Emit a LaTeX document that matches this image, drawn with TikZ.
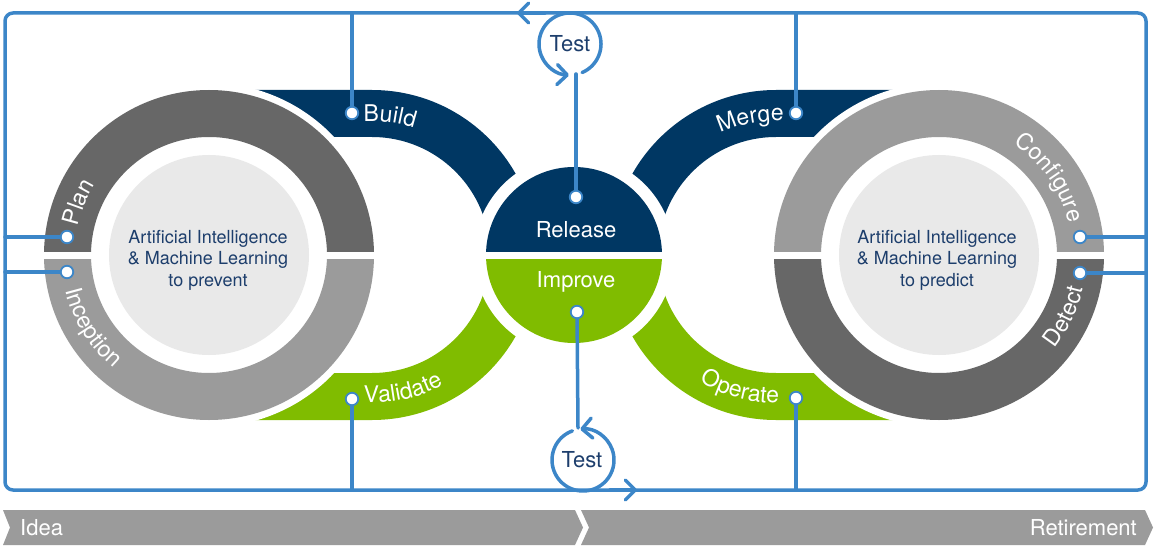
\documentclass[tikz,border=0pt]{standalone}
\usepackage{fontspec}
\setmainfont{TeX Gyre Heros}
\usetikzlibrary{arrows.meta,decorations.text}
\definecolor{navy}{HTML}{003763}
\definecolor{lgreen}{HTML}{80BC00}
\definecolor{dgray}{HTML}{676767}
\definecolor{lgray}{HTML}{9B9B9B}
\definecolor{disk}{HTML}{E9E9E9}
\definecolor{lblue}{HTML}{3C86C8}
\definecolor{txtnavy}{HTML}{1D3E6C}
\newcommand\lblfont{\fontsize{23}{27}\selectfont}
\newcommand\midfont{\fontsize{22}{26}\selectfont}
\newcommand\diskfont{\fontsize{18}{21.5}\selectfont}
\newcommand\ringlabel[5]{\path[shift={(#1)},decorate,decoration={text along path,text align=center,text color=white,text={|\lblfont|#5}}] (#3:#2) arc[start angle=#3,end angle=#4,radius=#2];}
\begin{document}
\begin{tikzpicture}[x=1pt,y=1pt,
  conn/.style={draw=lblue,line width=3.5pt,line cap=round,line join=round},
  arr/.style={conn,-{Straight Barb[length=10pt,width=20pt,line cap=round,line join=round]}},
  dotn/.style={circle,fill=white,draw=lblue,line width=1.8pt,minimum size=12.5pt,inner sep=0pt},
  disktext/.style={align=center,text=txtnavy,font=\diskfont},
  midtext/.style={white,font=\midfont,anchor=base},
  banner/.style={fill=lgray}]
\useasboundingbox (0,0) rectangle (1155,547);
\coordinate (L) at (209,292);
\coordinate (R) at (939,292);
\coordinate (C) at (574,292);
\coordinate (A1) at (372,292);
\coordinate (A2) at (776,292);
% bands
\fill[navy] (209,457) -- (372,457) arc[start angle=90,end angle=0,radius=165] -- (490,292) arc[start angle=0,end angle=90,radius=118] -- (209,410) -- cycle;
\fill[lgreen] (209,127) -- (372,127) arc[start angle=-90,end angle=0,radius=165] -- (490,292) arc[start angle=0,end angle=-90,radius=118] -- (209,174) -- cycle;
\fill[navy] (939,457) -- (776,457) arc[start angle=90,end angle=180,radius=165] -- (658,292) arc[start angle=180,end angle=90,radius=118] -- (939,410) -- cycle;
\fill[lgreen] (939,127) -- (776,127) arc[start angle=270,end angle=180,radius=165] -- (658,292) arc[start angle=180,end angle=270,radius=118] -- (939,174) -- cycle;
% halos
\fill[white] (L) circle[radius=172];
\fill[white] (R) circle[radius=172];
\fill[white] (C) circle[radius=100];
% left ring
\fill[dgray,shift={(L)}] (165,0) arc[start angle=0,end angle=180,radius=165] -- (-118,0) arc[start angle=180,end angle=0,radius=118] -- cycle;
\fill[lgray,shift={(L)}] (-165,0) arc[start angle=180,end angle=360,radius=165] -- (118,0) arc[start angle=360,end angle=180,radius=118] -- cycle;
\fill[white] (40,288.5) rectangle (378,295.5);
\fill[disk] (L) circle[radius=100];
% right ring
\fill[lgray,shift={(R)}] (165,0) arc[start angle=0,end angle=180,radius=165] -- (-118,0) arc[start angle=180,end angle=0,radius=118] -- cycle;
\fill[dgray,shift={(R)}] (-165,0) arc[start angle=180,end angle=360,radius=165] -- (118,0) arc[start angle=360,end angle=180,radius=118] -- cycle;
\fill[white] (770,288.5) rectangle (1108,295.5);
\fill[disk] (R) circle[radius=100];
% center
\fill[navy,shift={(C)}] (88,0) arc[start angle=0,end angle=180,radius=88] -- cycle;
\fill[lgreen,shift={(C)}] (-88,0) arc[start angle=180,end angle=360,radius=88] -- cycle;
\fill[white] (480,288.5) rectangle (668,295.5);
% disk texts
\node[disktext] (aiL) at (208,287) {Artificial Intelligence\\\& Machine Learning\\to prevent};
\node[disktext] (aiR) at (937,287) {Artificial Intelligence\\\& Machine Learning\\to predict};
\node[midtext] (release) at (576,310) {Release};
\node[midtext] (improve) at (576,260) {Improve};
% frame
\draw[conn,rounded corners=8pt] (5,57) rectangle (1146,534);
% dot positions
\coordinate (pplan) at (67,310);
\coordinate (pinc) at (67,275);
\coordinate (pbuild) at (352,434);
\coordinate (pval) at (352,148);
\coordinate (pmerge) at (796,434);
\coordinate (pop) at (796,149);
\coordinate (pconf) at (1080,310);
\coordinate (pdet) at (1080,274);
\coordinate (prel) at (576,350);
\coordinate (pimp) at (577,235);
\coordinate (fplan) at (5,310);
\coordinate (finc) at (5,275);
\coordinate (fbuild) at (352,534);
\coordinate (fval) at (352,57);
\coordinate (fmerge) at (796,534);
\coordinate (fop) at (796,57);
\coordinate (fconf) at (1146,310);
\coordinate (fdet) at (1146,274);
\coordinate (trel) at (576,473);
\coordinate (timp) at (578,119);
\coordinate (t1) at (570,503);
\coordinate (t2) at (583,87);
\coordinate (ta1) at (545,534);
\coordinate (ta2) at (517,534);
\coordinate (tb1) at (610,57);
\coordinate (tb2) at (637,57);
\draw[conn] (pplan) -- (fplan);
\draw[conn] (pinc) -- (finc);
\draw[conn] (pbuild) -- (fbuild);
\draw[conn] (pval) -- (fval);
\draw[conn] (pmerge) -- (fmerge);
\draw[conn] (pop) -- (fop);
\draw[conn] (pconf) -- (fconf);
\draw[conn] (pdet) -- (fdet);
\draw[conn] (prel) -- (trel);
\draw[conn] (pimp) -- (timp);
% test loops
\draw[arr,shift={(t1)}] (-67:31) arc[start angle=-67,end angle=268,radius=31];
\draw[arr,shift={(t2)}] (110:31) arc[start angle=110,end angle=455,radius=31];
\draw[arr] (ta1) -- (ta2);
\draw[arr] (tb1) -- (tb2);
\node[text=txtnavy,font=\midfont,anchor=base] (test1) at (570,495) {Test};
\node[text=txtnavy,font=\midfont,anchor=base] (test2) at (582,80) {Test};
% dots
\foreach \p in {pplan,pinc,pbuild,pval,pmerge,pop,pconf,pdet,prel,pimp}
  \node[dotn] (n\p) at (\p) {};
% labels along arcs
\ringlabel{L}{134}{193}{123}{Plan}
\ringlabel{L}{148}{177}{247}{Inception}
\ringlabel{R}{134}{70}{0}{Configure}
\ringlabel{R}{148}{-61}{9}{Detect}
\ringlabel{A1}{134}{117.6}{47.6}{Build}
\ringlabel{A2}{134}{135.7}{65.7}{Merge}
\ringlabel{A1}{148}{-112.2}{-42.2}{Validate}
\ringlabel{A2}{148}{-140}{-70}{Operate}
% banner
\fill[banner] (3,37) -- (575,37) -- (583,19.5) -- (575,2) -- (3,2) -- (10,19.5) -- cycle;
\fill[banner] (581,37) -- (1145,37) -- (1153,19.5) -- (1145,2) -- (581,2) -- (589,19.5) -- cycle;
\node[white,font=\midfont,anchor=base west,inner sep=0pt] (idea) at (20,12) {Idea};
\node[white,font=\midfont,anchor=base east,inner sep=0pt] (retire) at (1137,12) {Retirement};
\end{tikzpicture}
\end{document}
